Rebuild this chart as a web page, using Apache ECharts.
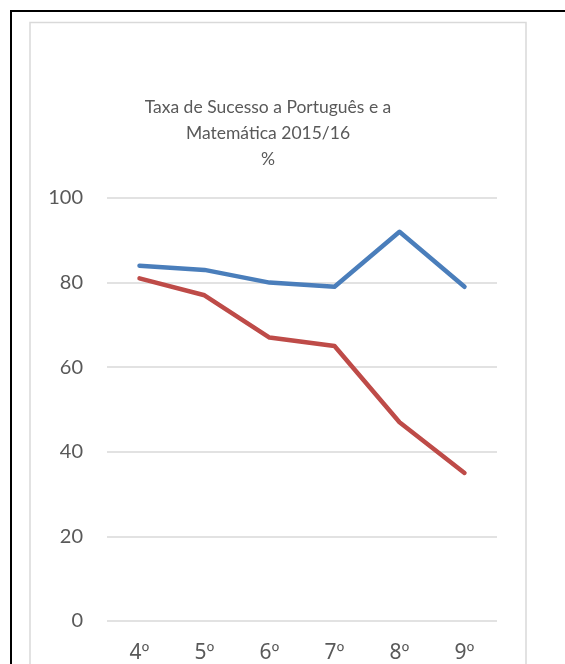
<!DOCTYPE html>
<html>
<head>
<meta charset="utf-8">
<script src="https://cdn.jsdelivr.net/npm/echarts@6/dist/echarts.min.js"></script>
<style>
  html, body { margin: 0; padding: 0; background: #fff; overflow: hidden; }
  #chart { width: 565px; height: 664px; }
</style>
</head>
<body>
<div id="chart"></div>
<script>
// anos de escolaridade
var anos = ["4º", "5º", "6º", "7º", "8º", "9º"];
// taxa de sucesso (%)
var portugues = [84, 83, 80, 79, 92, 79];
var matematica = [81, 77, 67, 65, 47, 35];
var yTicks = { min: 0, max: 100, interval: 20 };

var myChart = echarts.init(document.getElementById("chart"));
var textColor = "#595959";
var fontFamily = "Lato, 'Open Sans', sans-serif";

myChart.setOption({
  animation: false,
  backgroundColor: "#fff",
  title: {
    text: "Taxa de Sucesso a Português e a\nMatemática 2015/16\n%",
    left: 263,
    top: 89,
    textAlign: "center",
    textStyle: {
      color: textColor,
      fontFamily: fontFamily,
      fontWeight: "normal",
      fontSize: 17.5,
      lineHeight: 26,
    },
  },
  // moldura preta exterior e moldura cinzenta do gráfico
  graphic: [
    {
      type: "rect",
      shape: { x: 11, y: 11, width: 700, height: 800 },
      style: { fill: "none", stroke: "#000", lineWidth: 2 },
      silent: true,
    },
    {
      type: "rect",
      shape: { x: 30, y: 22.5, width: 496, height: 800 },
      style: { fill: "none", stroke: "#d9d9d9", lineWidth: 1.5 },
      silent: true,
    },
  ],
  grid: {
    left: 107,
    right: 68,
    top: 198,
    bottom: 41,
  },
  xAxis: {
    type: "category",
    data: anos,
    boundaryGap: true,
    axisLine: { show: false },
    axisTick: { show: false },
    axisLabel: {
      color: textColor,
      fontFamily: "'Noto Sans', 'Open Sans', sans-serif",
      fontSize: 21,
      margin: 22,
    },
  },
  yAxis: {
    type: "value",
    min: yTicks.min,
    max: yTicks.max,
    interval: yTicks.interval,
    axisLine: { show: false },
    axisTick: { show: false },
    axisLabel: {
      color: textColor,
      fontFamily: fontFamily,
      fontSize: 20,
      margin: 24,
    },
    splitLine: { lineStyle: { color: "#d9d9d9", width: 1.5 } },
  },
  series: [
    {
      name: "Português",
      type: "line",
      data: portugues,
      showSymbol: false,
      lineStyle: { color: "#4a7ebb", width: 4.5, cap: "round", join: "round" },
      itemStyle: { color: "#4a7ebb" },
    },
    {
      name: "Matemática",
      type: "line",
      data: matematica,
      showSymbol: false,
      lineStyle: { color: "#be4b48", width: 4.5, cap: "round", join: "round" },
      itemStyle: { color: "#be4b48" },
    },
  ],
});
</script>
</body>
</html>
